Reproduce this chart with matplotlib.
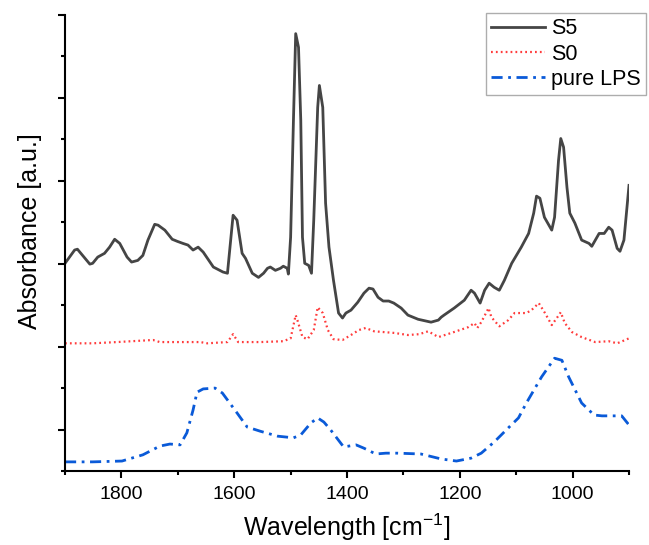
import numpy as np
import matplotlib
matplotlib.use("Agg")
import matplotlib.pyplot as plt
from matplotlib.ticker import MultipleLocator, NullFormatter

plt.rcParams["font.family"] = ["Liberation Sans", "DejaVu Sans"]

# S5 spectrum (wavenumber, absorbance a.u.)
s5_wn = [1900, 1883, 1878, 1856, 1851, 1842, 1830, 1821, 1812, 1803, 1790, 1782,
         1771, 1762, 1753, 1741, 1735, 1723, 1710, 1701, 1691, 1682, 1673, 1664,
         1655, 1637, 1620, 1612, 1602, 1595, 1586, 1580, 1568, 1557, 1548, 1541,
         1536, 1527, 1518, 1513, 1506, 1504, 1500, 1495, 1491, 1486, 1482, 1479,
         1475, 1468, 1463, 1459, 1452, 1449, 1443, 1438, 1432, 1424, 1415, 1408,
         1402, 1393, 1381, 1370, 1361, 1354, 1345, 1336, 1326, 1317, 1304, 1292,
         1274, 1251, 1238, 1233, 1228, 1210, 1192, 1180, 1174, 1164, 1156, 1148,
         1139, 1130, 1121, 1108, 1091, 1078, 1069, 1064, 1058, 1050, 1037, 1032,
         1025, 1021, 1016, 1010, 1005, 996, 984, 971, 966, 953, 944, 936, 930,
         921, 916, 909, 900]
s5_abs = [5.01, 5.33, 5.35, 4.99, 5.01, 5.16, 5.25, 5.40, 5.59, 5.49, 5.16, 5.04,
          5.08, 5.20, 5.57, 5.95, 5.93, 5.81, 5.59, 5.54, 5.49, 5.45, 5.33, 5.40,
          5.28, 4.92, 4.80, 4.77, 6.17, 6.05, 5.25, 5.13, 4.77, 4.67, 4.77, 4.89,
          4.92, 4.84, 4.89, 4.94, 4.89, 4.75, 5.64, 8.46, 10.55, 10.22, 8.46, 5.64,
          5.01, 4.96, 4.77, 6.05, 8.77, 9.30, 8.77, 6.46, 5.40, 4.60, 3.81, 3.69,
          3.81, 3.88, 4.07, 4.29, 4.41, 4.39, 4.19, 4.10, 4.10, 4.05, 3.93, 3.76,
          3.66, 3.59, 3.64, 3.71, 3.76, 3.93, 4.12, 4.36, 4.29, 4.05, 4.36, 4.53,
          4.43, 4.36, 4.60, 5.01, 5.40, 5.73, 6.22, 6.63, 6.58, 6.12, 5.81, 6.12,
          7.49, 8.02, 7.81, 6.84, 6.22, 5.98, 5.57, 5.49, 5.42, 5.73, 5.73, 5.88,
          5.81, 5.37, 5.30, 5.57, 6.89]

# S0 spectrum
s0_wn = [1900, 1851, 1808, 1744, 1732, 1660, 1648, 1612, 1602, 1593, 1554, 1513,
         1500, 1491, 1488, 1479, 1470, 1459, 1452, 1443, 1434, 1424, 1408, 1393,
         1379, 1367, 1352, 1334, 1316, 1292, 1272, 1256, 1238, 1215, 1185, 1174,
         1169, 1162, 1149, 1144, 1130, 1114, 1103, 1082, 1073, 1060, 1049, 1037,
         1028, 1021, 1014, 1001, 984, 960, 936, 921, 912, 900]
s0_abs = [3.08, 3.08, 3.11, 3.16, 3.11, 3.11, 3.08, 3.11, 3.30, 3.11, 3.11, 3.13,
          3.20, 3.76, 3.64, 3.23, 3.18, 3.40, 3.95, 3.81, 3.40, 3.18, 3.16, 3.28,
          3.40, 3.45, 3.37, 3.35, 3.33, 3.28, 3.30, 3.37, 3.23, 3.33, 3.47, 3.57,
          3.45, 3.59, 3.93, 3.71, 3.49, 3.64, 3.81, 3.81, 3.88, 4.05, 3.81, 3.52,
          3.69, 3.83, 3.57, 3.35, 3.23, 3.11, 3.13, 3.08, 3.13, 3.20]

# pure LPS spectrum
lps_wn = [1900, 1851, 1799, 1762, 1732, 1714, 1696, 1684, 1673, 1666, 1655, 1634,
          1621, 1595, 1577, 1554, 1523, 1495, 1482, 1464, 1452, 1441, 1429, 1406,
          1384, 1370, 1349, 1331, 1310, 1269, 1233, 1206, 1180, 1162, 1139, 1114,
          1096, 1082, 1055, 1032, 1019, 1007, 984, 962, 948, 913, 900]
lps_abs = [0.22, 0.22, 0.24, 0.39, 0.60, 0.65, 0.63, 0.92, 1.47, 1.90, 1.98, 2.00,
           1.88, 1.40, 1.06, 0.96, 0.84, 0.80, 0.87, 1.16, 1.28, 1.18, 0.99, 0.58,
           0.63, 0.55, 0.41, 0.43, 0.43, 0.41, 0.29, 0.24, 0.31, 0.43, 0.70, 1.04,
           1.28, 1.64, 2.27, 2.72, 2.67, 2.27, 1.64, 1.35, 1.33, 1.33, 1.11]

fig = plt.figure(figsize=(6.49, 5.45), dpi=100)
ax = fig.add_axes([0.1002, 0.1358, 0.8690, 0.8367])

ax.plot(s5_wn, s5_abs, color="#454545", lw=2.0, label="S5")
ax.plot(s0_wn, s0_abs, color="#ff3b3b", lw=1.6, linestyle=(0, (0.8, 1.4)), label="S0")
ax.plot(lps_wn, lps_abs, color="#0a5ad8", lw=2.0, linestyle=(0, (4, 2, 1, 2)), label="pure LPS")

ax.set_xlim(1900, 900)
ax.set_ylim(0, 11)
ax.xaxis.set_major_locator(MultipleLocator(200))
ax.xaxis.set_minor_locator(MultipleLocator(100))
ax.set_yticks([1, 3, 5, 7, 9, 11])
ax.set_yticks([0, 2, 4, 6, 8, 10], minor=True)
ax.yaxis.set_major_formatter(NullFormatter())

for side in ["top", "right"]:
    ax.spines[side].set_visible(False)
for side in ["left", "bottom"]:
    ax.spines[side].set_linewidth(1.5)
ax.tick_params(which="major", direction="out", length=5, width=1.5, labelsize=14, pad=6)
ax.tick_params(which="minor", direction="out", length=3, width=1.5)

ax.set_xlabel("Wavelength [cm$^{\\mathregular{-1}}$]", fontsize=18, labelpad=6)
ax.set_ylabel("Absorbance [a.u.]", fontsize=18)
ax.yaxis.set_label_coords(-0.041, 0.526)

leg = ax.legend(loc="upper left", bbox_to_anchor=(486 / 649, 1 - 13 / 545),
                bbox_transform=fig.transFigure, fontsize=15.5, frameon=True,
                fancybox=False, edgecolor="#999999", handlelength=2.5,
                labelspacing=0.2, borderpad=0.25, handletextpad=0.25,
                borderaxespad=0)
leg.get_frame().set_linewidth(1.0)

fig.savefig("out.png", dpi=100)
